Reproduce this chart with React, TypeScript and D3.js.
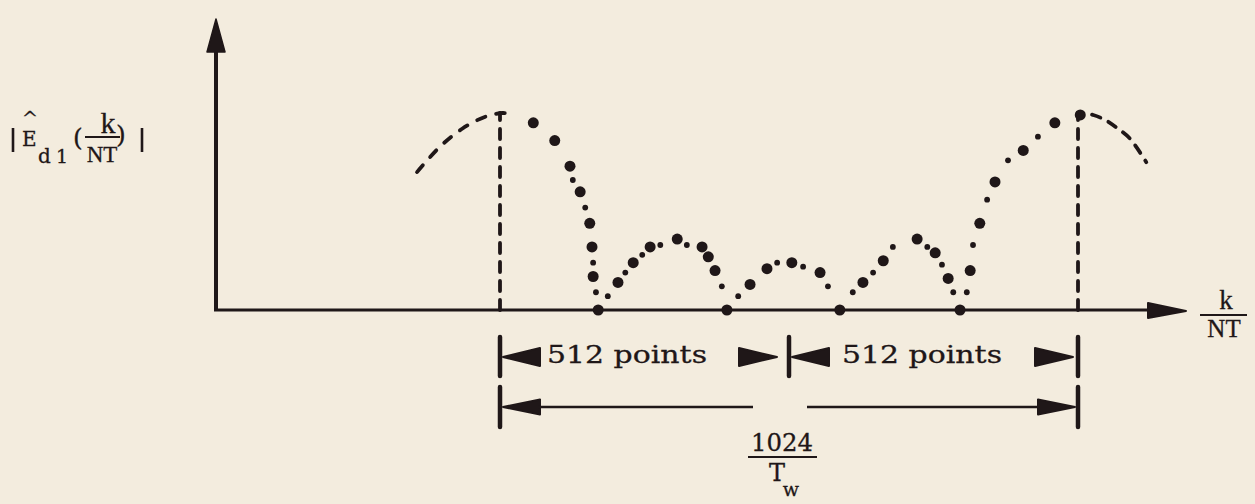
import React from 'react';
import * as d3 from 'd3';

const W = 1255;
const H = 504;
const BG = '#f3ecde';
const INK = '#1f1718';
const TYPE = '"DejaVu Serif", "Liberation Serif", serif';
const SERIF = '"Liberation Serif", "DejaVu Serif", serif';

// Frequency bins where the two main lobes peak (dashed verticals)
const peakBins = [0, 1024];

// Dashed continuation of the spectrum outside the sampled window
const leftTail: [number, number][] = [
  [-147, 0.7], [-106, 0.83], [-67, 0.92], [-27, 0.98], [5, 1.0], [27, 0.99],
];
const rightTail: [number, number][] = [
  [1024, 1.0], [1051, 0.99], [1075, 0.96], [1095, 0.92], [1116, 0.87], [1145, 0.75],
];

// Sampled magnitudes |E_d1(k/NT)| — large dots
const bigDots: [number, number][] = [
  [59, 0.95], [97, 0.86], [124, 0.73], [142, 0.6], [159, 0.44], [163, 0.32], [165, 0.17], [174, 0],
  [209, 0.14], [236, 0.24], [266, 0.32], [314, 0.36], [358, 0.32], [369, 0.27], [381, 0.2], [402, 0],
  [443, 0.13], [473, 0.21], [517, 0.24], [567, 0.19], [602, 0],
  [643, 0.14], [679, 0.25], [739, 0.36], [771, 0.29], [794, 0.16], [815, 0],
  [833, 0.2], [850, 0.44], [877, 0.65], [927, 0.81], [983, 0.95], [1028, 0.99],
];
// Intermediate samples — small dots
const smallDots: [number, number][] = [
  [129, 0.66], [151, 0.52], [165, 0.24], [170, 0.09],
  [191, 0.07], [222, 0.19], [252, 0.28], [284, 0.33], [331, 0.33], [393, 0.12],
  [422, 0.07], [491, 0.24], [537, 0.22], [581, 0.12],
  [625, 0.09], [661, 0.19], [696, 0.32], [757, 0.32], [783, 0.23], [803, 0.09],
  [827, 0.09], [838, 0.33], [863, 0.56], [900, 0.76], [953, 0.88],
];

// Dimension lines under the axis
const halfSpans: [number, number][] = [[0, 512], [512, 1024]];
const halfLabel = '512 points';
const fullSpan: [number, number] = [0, 1024];
const fullLabelNum = '1024';
const fullLabelDen = 'T';
const fullLabelSub = 'w';

function arrowHead(tipX: number, cy: number, dir: 1 | -1, len: number, half: number) {
  // dir = -1 : points left (tip on the left), dir = 1 : points right
  const baseX = tipX - dir * len;
  return `M${tipX},${cy} L${baseX},${cy - half} L${baseX},${cy + half} Z`;
}

export default function App() {
  const x = d3.scaleLinear().domain([0, 1024]).range([500, 1078]);
  const y = d3.scaleLinear().domain([0, 1]).range([310, 113]);
  const line = d3
    .line<[number, number]>()
    .x((d) => x(d[0]))
    .y((d) => y(d[1]))
    .curve(d3.curveCatmullRom);

  const axisY = y(0);
  const yAxisX = 216;

  const row1 = 357;
  const row2 = 407;

  return (
    <svg
      width={W}
      height={H}
      viewBox={`0 0 ${W} ${H}`}
      style={{ position: 'fixed', left: 0, top: 0, background: BG }}
    >
      <rect x={0} y={0} width={W} height={H} fill={BG} />

      {/* vertical axis with arrow */}
      <line x1={yAxisX} y1={axisY + 1} x2={yAxisX} y2={48} stroke={INK} strokeWidth={4} />
      <path d={`M${yAxisX},19 L${yAxisX - 9},52 L${yAxisX + 9},52 Z`} fill={INK} stroke={INK} strokeWidth={1.5} strokeLinejoin="round" />

      {/* horizontal axis with arrow */}
      <line x1={yAxisX - 2} y1={axisY} x2={1152} y2={axisY} stroke={INK} strokeWidth={3} />
      <path d={`M1186,${axisY + 1} L1148,${axisY - 7} L1148,${axisY + 8} Z`} fill={INK} stroke={INK} strokeWidth={2} strokeLinejoin="round" />

      {/* y label |Ê_d1(k/NT)| */}
      <g fill={INK} stroke={INK} strokeWidth={0.3}>
        <line x1={13} y1={128} x2={13} y2={152} stroke={INK} strokeWidth={2.6} />
        <text x={30} y={125} fontFamily={TYPE} fontSize={19} textAnchor="middle">^</text>
        <text x={22} y={146} fontFamily={TYPE} fontSize={20}>E</text>
        <text x={38} y={163} fontFamily={TYPE} fontSize={20}>d</text>
        <text x={56} y={163} fontFamily={TYPE} fontSize={19}>1</text>
        <text x={73} y={146} fontFamily={TYPE} fontSize={25}>(</text>
        <text x={108} y={133} fontFamily={SERIF} fontSize={30} textAnchor="middle">k</text>
        <line x1={85} y1={137} x2={120} y2={137} stroke={INK} strokeWidth={2} />
        <text x={102} y={162} fontFamily={SERIF} fontSize={23} textAnchor="middle">NT</text>
        <text x={116} y={143} fontFamily={TYPE} fontSize={25}>)</text>
        <line x1={142} y1={128} x2={142} y2={152} stroke={INK} strokeWidth={2.6} />
      </g>

      {/* x label k/NT */}
      <g fill={INK} stroke={INK} strokeWidth={0.3}>
        <text x={1226} y={309} fontFamily={SERIF} fontSize={27} textAnchor="middle">k</text>
        <line x1={1200} y1={315} x2={1247} y2={315} stroke={INK} strokeWidth={2} />
        <text x={1224} y={337} fontFamily={SERIF} fontSize={25} textAnchor="middle">NT</text>
      </g>

      {/* dashed verticals at the main-lobe peaks */}
      {peakBins.map((b) => (
        <line
          key={b}
          x1={x(b)}
          y1={axisY}
          x2={x(b)}
          y2={y(1)}
          stroke={INK}
          strokeWidth={3.8}
          strokeDasharray="10 9"
          strokeLinecap="round"
        />
      ))}

      {/* dashed tails of the spectrum */}
      <path d={line(leftTail) ?? ''} fill="none" stroke={INK} strokeWidth={3.8} strokeDasharray="9 11" strokeLinecap="round" />
      <path d={line(rightTail) ?? ''} fill="none" stroke={INK} strokeWidth={3.8} strokeDasharray="9 9" strokeDashoffset={-14} strokeLinecap="round" />

      {/* sampled points */}
      {smallDots.map((d, i) => (
        <circle key={`s${i}`} cx={x(d[0])} cy={y(d[1])} r={2.9} fill={INK} />
      ))}
      {bigDots.map((d, i) => (
        <circle key={`b${i}`} cx={x(d[0])} cy={y(d[1])} r={5.5} fill={INK} />
      ))}

      {/* "512 points" dimension row */}
      {halfSpans.map(([a, b], i) => {
        const xa = x(a);
        const xb = x(b);
        return (
          <g key={`h${i}`}>
            <line x1={xa} y1={row1 - 20} x2={xa} y2={row1 + 19} stroke={INK} strokeWidth={4.5} strokeLinecap="round" />
            <path d={arrowHead(xa + 3, row1, -1, 37, 9)} fill={INK} stroke={INK} strokeWidth={2} strokeLinejoin="round" />
            <text
              x={xa + (i === 0 ? 47 : 53)}
              y={row1 + 6}
              fontFamily={TYPE}
              fontSize={25}
              textLength={160}
              lengthAdjust="spacingAndGlyphs"
              fill={INK}
              stroke={INK}
              strokeWidth={0.3}
            >
              {halfLabel}
            </text>
            <path d={arrowHead(xb - (i === 0 ? 12 : 5), row1, 1, 38, 9)} fill={INK} stroke={INK} strokeWidth={2} strokeLinejoin="round" />
          </g>
        );
      })}
      <line x1={x(1024)} y1={row1 - 20} x2={x(1024)} y2={row1 + 19} stroke={INK} strokeWidth={4.5} strokeLinecap="round" />

      {/* full-window dimension row */}
      {(() => {
        const xa = x(fullSpan[0]);
        const xb = x(fullSpan[1]);
        const xm = (xa + xb) / 2 - 7;
        return (
          <g>
            <line x1={xa} y1={row2 - 20} x2={xa} y2={row2 + 20} stroke={INK} strokeWidth={4.5} strokeLinecap="round" />
            <line x1={xb} y1={row2 - 20} x2={xb} y2={row2 + 20} stroke={INK} strokeWidth={4.5} strokeLinecap="round" />
            <path d={arrowHead(xa + 3, row2, -1, 37, 7.5)} fill={INK} stroke={INK} strokeWidth={2} strokeLinejoin="round" />
            <line x1={xa + 38} y1={row2} x2={xm - 29} y2={row2} stroke={INK} strokeWidth={2.6} />
            <line x1={xm + 25} y1={row2} x2={xb - 38} y2={row2} stroke={INK} strokeWidth={2.6} />
            <path d={arrowHead(xb - 3, row2, 1, 37, 7.5)} fill={INK} stroke={INK} strokeWidth={2} strokeLinejoin="round" />
            <g fill={INK} stroke={INK} strokeWidth={0.3} fontFamily={TYPE}>
              <text x={xm} y={451} fontSize={25} textAnchor="middle" textLength={62} lengthAdjust="spacingAndGlyphs">{fullLabelNum}</text>
              <line x1={xm - 34} y1={457} x2={xm + 35} y2={457} strokeWidth={2.2} />
              <text x={xm - 5} y={481} fontSize={24} textAnchor="middle">{fullLabelDen}</text>
              <text x={xm + 9} y={496} fontSize={19} textAnchor="middle">{fullLabelSub}</text>
            </g>
          </g>
        );
      })()}
    </svg>
  );
}
